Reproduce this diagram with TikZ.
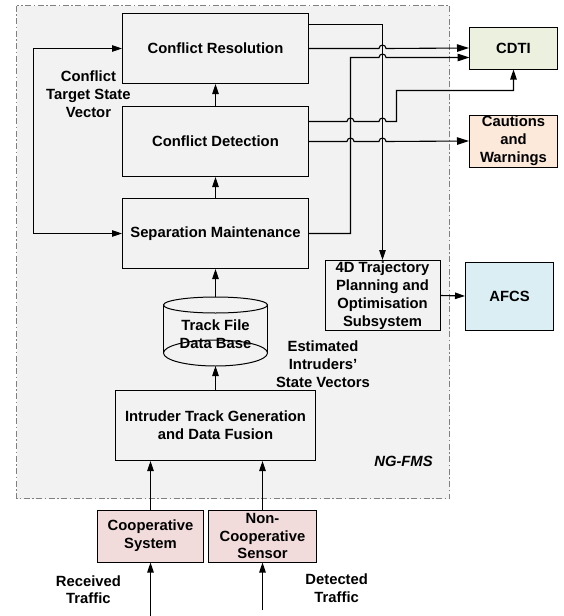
\documentclass[tikz,border=0pt]{standalone}
\usepackage{fontspec}
\setmainfont{Liberation Sans}
\usetikzlibrary{arrows.meta,calc}
\definecolor{bggray}{HTML}{F2F2F2}
\definecolor{cdtigreen}{HTML}{EBF1DE}
\definecolor{cwor}{HTML}{FDE9D9}
\definecolor{afcsblue}{HTML}{DAEEF3}
\definecolor{coppink}{HTML}{F2DCDB}
\newcommand\lab{\fontsize{14.8}{17.8}\selectfont\bfseries}
\begin{document}
\begin{tikzpicture}[x=1pt,y=-1pt,
  box/.style={draw=black, line width=1pt, inner sep=0pt, align=center, font=\lab},
  txt/.style={inner sep=0pt, align=center, font=\lab},
  conn/.style={line width=1.1pt, draw=black},
  arr/.style={conn, -{Triangle[length=10pt,width=6.5pt]}},
  bigarr/.style={conn, -{Triangle[length=12pt,width=7.5pt]}},
  both/.style={conn, {Triangle[length=10pt,width=6.5pt]}-{Triangle[length=10pt,width=6.5pt]}}]
\useasboundingbox (0,0) rectangle (563,616);
% container
\filldraw[fill=bggray, draw=gray, line width=0.9pt, dash pattern=on 6pt off 2.5pt on 1.5pt off 2.5pt]
  (16.5,5.5) rectangle (449.5,498.5);
% main boxes
\node[box, minimum width=186pt, minimum height=70pt] (CR) at (215.5,48.5) {Conflict Resolution};
\node[box, minimum width=186pt, minimum height=70pt] (CD) at (215.5,141.5) {Conflict Detection};
\node[box, minimum width=186pt, minimum height=70pt] (SM) at (215.5,233.5) {Separation Maintenance};
\node[box, minimum width=200pt, minimum height=70pt] (ITG) at (215.5,425.5) {Intruder Track Generation\\and Data Fusion};
\node[box, minimum width=115pt, minimum height=70pt] (TD) at (382.5,295.5) {4D Trajectory\\Planning and\\Optimisation\\Subsystem};
\node[box, fill=cdtigreen, minimum width=88pt, minimum height=42pt] (CDTI) at (513.5,48) {CDTI};
\node[box, fill=cwor, minimum width=88pt, minimum height=52pt] (CW) at (513.5,141) {Cautions\\and\\Warnings};
\node[box, fill=afcsblue, minimum width=88pt, minimum height=68pt] (AFCS) at (509.5,296) {AFCS};
\node[box, fill=coppink, minimum width=106pt, minimum height=52pt] (COOP) at (150.5,536) {Cooperative\\System};
\node[box, fill=coppink, minimum width=108pt, minimum height=52pt] (NCOOP) at (262.5,536) {Non-\\Cooperative\\Sensor};
% cylinder
\draw[line width=1pt] (163.5,305) -- (163.5,353) (267.5,305) -- (267.5,353);
\draw[line width=1pt] (215.5,305) ellipse[x radius=52, y radius=8];
\node[txt] (DB) at (215.5,334) {Track File\\Data Base};
\draw[line width=1pt] (215.5,353) ellipse[x radius=52, y radius=13];
\coordinate (DBtop) at (215.5,297);
\coordinate (DBbot) at (215.5,366);
% labels
\node[txt] (lbl1) at (88.4,94.3) {Conflict\\Target State\\Vector};
\node[txt] (lbl2) at (323,364) {Estimated\\Intruders’\\State Vectors};
\node[txt, font=\lab\itshape] (ngfms) at (403.5,461.7) {NG-FMS};
\node[txt] (lbl3) at (88.4,589.7) {Received\\Traffic};
\node[txt] (lbl4) at (336.7,588.2) {Detected\\Traffic};
% vertical chain
\draw[arr] (CD.north) -- (CR.south);
\draw[arr] (SM.north) -- (CD.south);
\draw[arr] (DBtop) -- (SM.south);
\draw[arr] (ITG.north) -- (DBbot);
\draw[arr] (COOP.north) -- (COOP.north |- ITG.south);
\draw[arr] (NCOOP.north) -- (NCOOP.north |- ITG.south);
\coordinate (RT) at (150.5,616);
\coordinate (DT) at (262.5,610);
\draw[arr] (RT) -- (COOP.south);
\draw[arr] (DT) -- (NCOOP.south);
% left loop
\coordinate (LT) at (33.5,48.5);
\coordinate (LB) at (33.5,233.5);
\draw[both] (CR.west) -- (LT) -- (LB) -- (SM.west);
% CR top -> 4D
\coordinate (CRtop) at (308.5,24.5);
\draw[arr] (CRtop) -- (382.5,24.5) -- (TD.north);
% CR -> CDTI
\draw[bigarr] (CR.east) -- (379,48.5) .. controls (379,44) and (386,44) .. (386,48.5) -- (CDTI.west);
% SM -> CDTI
\coordinate (CDTIin) at (469.5,57.5);
\draw[bigarr] (SM.east) -- (350.5,233.5) -- (350.5,57.5) -- (379,57.5) .. controls (379,53) and (386,53) .. (386,57.5) -- (CDTIin);
% CD -> CDTI bottom
\coordinate (CDa) at (308.5,121.5);
\draw[arr] (CDa) -- (347,121.5) .. controls (347,117) and (354,117) .. (354,121.5)
  -- (379,121.5) .. controls (379,117) and (386,117) .. (386,121.5) -- (396.5,121.5) -- (396.5,90.5) -| (CDTI.south);
% CD -> CW
\draw[bigarr] (CD.east) -- (347,141.5) .. controls (347,137) and (354,137) .. (354,141.5)
  -- (379,141.5) .. controls (379,137) and (386,137) .. (386,141.5) -- (CW.west);
% 4D -> AFCS
\draw[arr] (TD.east) -- (AFCS.west);
\end{tikzpicture}
\end{document}
